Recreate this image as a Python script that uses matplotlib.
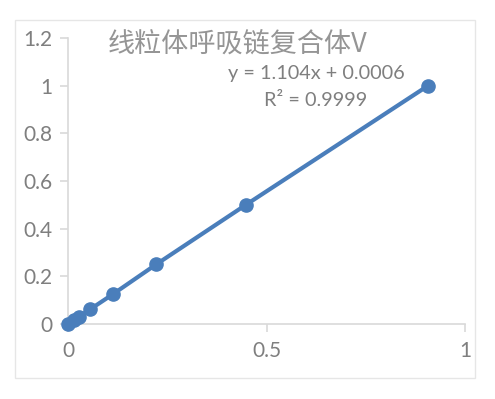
import matplotlib.pyplot as plt
from matplotlib.patches import Rectangle

# concentration series (doubling dilutions)
x_vals = [0, 0.0141, 0.0283, 0.0566, 0.113, 0.222, 0.448, 0.907]
y_vals = [0, 0.015625, 0.03125, 0.0625, 0.125, 0.25, 0.5, 1.0]
x_ticks = [0, 0.5, 1]
x_labels = ['0', '0.5', '1']
y_ticks = [0, 0.2, 0.4, 0.6, 0.8, 1.0, 1.2]
y_labels = ['0', '0.2', '0.4', '0.6', '0.8', '1', '1.2']
title = '线粒体呼吸链复合体V'
eq_text = 'y = 1.104x + 0.0006'
r2_text = 'R² = 0.9999'

blue = '#4a7ebb'
axis_gray = '#d9d9d9'
text_gray = '#7f7f7f'

fig = plt.figure(figsize=(4.95, 3.99), dpi=100)
fig.patches.append(Rectangle((15 / 495, 1 - 378 / 399), 460 / 495, 358 / 399,
                             transform=fig.transFigure, fill=False,
                             edgecolor='#e6e6e6', linewidth=1))

ax = fig.add_axes([68 / 495, 1 - 324 / 399, 397 / 495, 286 / 399])
ax.plot(x_vals, y_vals, color=blue, linewidth=3.0, marker='o',
        markersize=9.5, clip_on=False, zorder=3)

ax.set_xlim(0, 1)
ax.set_ylim(0, 1.2)
ax.set_xticks(x_ticks)
ax.set_xticklabels(x_labels)
ax.set_yticks(y_ticks)
ax.set_yticklabels(y_labels)

for side in ['top', 'right']:
    ax.spines[side].set_visible(False)
for side in ['left', 'bottom']:
    ax.spines[side].set_color(axis_gray)
    ax.spines[side].set_linewidth(1.2)

ax.tick_params(axis='both', colors=axis_gray, length=6, width=1.2,
               labelcolor=text_gray, labelsize=15)
ax.tick_params(axis='x', pad=6)
ax.tick_params(axis='y', pad=5)
for lab in ax.get_xticklabels() + ax.get_yticklabels():
    lab.set_family('Lato')

fig.text(238 / 495, 1 - 44 / 399, title, ha='center', va='center',
         fontsize=19.5, color='#959595',
         family=['Noto Sans CJK SC', 'DejaVu Sans'])
fig.text(316 / 495, 1 - 73 / 399, eq_text, ha='center', va='center',
         fontsize=14.3, color=text_gray, family='Lato')
fig.text(316 / 495, 1 - 100 / 399, r2_text, ha='center', va='center',
         fontsize=14.3, color=text_gray, family='Lato')

fig.savefig('out.png', dpi=100)
